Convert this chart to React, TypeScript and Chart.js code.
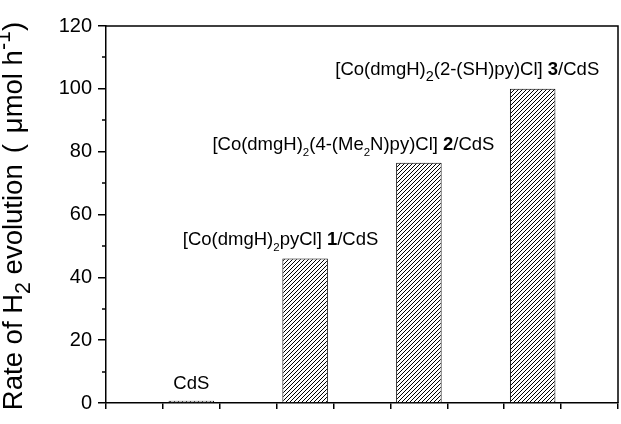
import React, { useEffect, useRef } from 'react';
import { Chart, registerables } from 'chart.js';

Chart.register(...registerables);

// ---- Data ----
const barPositions = [1.5, 3.5, 5.5, 7.5];
const rates = [0.7, 46, 76.5, 100];
const yMin = 0;
const yMax = 120;
const yMajorStep = 20;
const yMinorTicks = [10, 30, 50, 70, 90, 110];
const xMin = 0;
const xMax = 9;

type Seg = { t: string; sub?: boolean; sup?: boolean; bold?: boolean; big?: boolean; gap?: number };

const barLabels: Seg[][] = [
  [{ t: 'CdS' }],
  [{ t: '[Co(dmgH)' }, { t: '2', sub: true }, { t: 'pyCl] ' }, { t: '1', bold: true }, { t: '/CdS' }],
  [
    { t: '[Co(dmgH)' }, { t: '2', sub: true }, { t: '(4-(Me' }, { t: '2', sub: true },
    { t: 'N)py)Cl] ' }, { t: '2', bold: true }, { t: '/CdS' },
  ],
  [{ t: '[Co(dmgH)' }, { t: '2', sub: true, big: true }, { t: '(2-(SH)py)Cl] ' }, { t: '3', bold: true }, { t: '/CdS' }],
];
// label anchor (data units): x, baseline y, alignment
const labelAnchorX = [1.5, 1.35, 1.87, 4.03];
const labelAnchorY = [4.3, 50.3, 80.5, 104.4];
const labelAlign: ('center' | 'left')[] = ['center', 'left', 'left', 'left'];

const titleSegs: Seg[] = [
  { t: 'Rate of H' }, { t: '2', sub: true, big: true }, { t: ' evolution' }, { t: '', gap: 11 }, { t: '(' },
  { t: '', gap: 11 }, { t: '\u03bcmol h' }, { t: '-1', sup: true, big: true }, { t: ')' },
];

const FAMILY = '"Liberation Sans", Arial, Helvetica, sans-serif';

function segFont(s: Seg, size: number) {
  const fs = s.sub || s.sup ? (s.big ? size * 0.78 : size * 0.62) : size;
  return `${s.bold ? 'bold ' : ''}${fs}px ${FAMILY}`;
}

function segWidth(ctx: CanvasRenderingContext2D, s: Seg, size: number) {
  if (s.gap) return s.gap;
  ctx.font = segFont(s, size);
  return ctx.measureText(s.t).width;
}

function drawRich(ctx: CanvasRenderingContext2D, segs: Seg[], x: number, y: number, size: number, align: 'left' | 'center') {
  ctx.textAlign = 'left';
  ctx.textBaseline = 'alphabetic';
  let w = 0;
  for (const s of segs) w += segWidth(ctx, s, size);
  let cx = align === 'center' ? x - w / 2 : x;
  for (const s of segs) {
    const sw = segWidth(ctx, s, size);
    if (!s.gap) {
      ctx.font = segFont(s, size);
      const dy = s.sub ? size * 0.3 : s.sup ? -size * 0.42 : 0;
      ctx.fillText(s.t, cx, y + dy);
    }
    cx += sw;
  }
  return w;
}

function makeHatch(): CanvasPattern | string {
  const c = document.createElement('canvas');
  const s = 4;
  c.width = s;
  c.height = s;
  const g = c.getContext('2d');
  if (!g) return '#888';
  g.fillStyle = '#fff';
  g.fillRect(0, 0, s, s);
  g.strokeStyle = '#000';
  g.lineWidth = 1;
  g.beginPath();
  g.moveTo(0, s);
  g.lineTo(s, 0);
  g.moveTo(-1, 1);
  g.lineTo(1, -1);
  g.moveTo(s - 1, s + 1);
  g.lineTo(s + 1, s - 1);
  g.stroke();
  const p = g.createPattern(c, 'repeat');
  return p || '#888';
}

const decorPlugin = {
  id: 'decor',
  afterDraw(chart: any) {
    const ctx: CanvasRenderingContext2D = chart.ctx;
    const { left, right, top, bottom } = chart.chartArea;
    const xs = chart.scales.x;
    const ys = chart.scales.y;
    ctx.save();
    ctx.strokeStyle = '#000';
    ctx.lineWidth = 1.5;
    // frame top & right
    ctx.beginPath();
    ctx.moveTo(left, top);
    ctx.lineTo(right, top);
    ctx.lineTo(right, bottom);
    ctx.stroke();
    // minor y ticks
    ctx.beginPath();
    for (const v of yMinorTicks) {
      const py = Math.round(ys.getPixelForValue(v));
      ctx.moveTo(left - 4, py);
      ctx.lineTo(left, py);
    }
    ctx.stroke();
    // bar labels
    ctx.fillStyle = '#000';
    barLabels.forEach((segs, i) => {
      drawRich(ctx, segs, xs.getPixelForValue(labelAnchorX[i]), ys.getPixelForValue(labelAnchorY[i]), 18.5, labelAlign[i]);
    });
    // axis title
    ctx.save();
    ctx.translate(22, 216);
    ctx.rotate(-Math.PI / 2);
    drawRich(ctx, titleSegs, 0, 0, 27.5, 'center');
    ctx.restore();
    ctx.restore();
  },
};

export default function App() {
  const ref = useRef<HTMLCanvasElement | null>(null);
  useEffect(() => {
    if (!ref.current) return;
    const hatch = makeHatch();
    const chart = new Chart(ref.current, {
      type: 'bar',
      data: {
        datasets: [
          {
            data: barPositions.map((x, i) => ({ x, y: rates[i] })) as any,
            backgroundColor: hatch as any,
            borderColor: '#000',
            borderWidth: 1,
            barPercentage: 0.8,
            categoryPercentage: 1,
          },
        ],
      },
      options: {
        responsive: false,
        animation: false,
        layout: { padding: { top: 26, right: 3, left: 0, bottom: 0 } },
        plugins: { legend: { display: false }, tooltip: { enabled: false } },
        scales: {
          x: {
            type: 'linear',
            min: xMin,
            max: xMax,
            offset: false,
            grid: { drawOnChartArea: false, offset: false, tickLength: 6, color: '#000', lineWidth: 1.5 },
            border: { color: '#000', width: 1.5 },
            ticks: { stepSize: 1, callback: () => '', padding: 0 },
            afterFit: (s: any) => {
              s.height = 21;
            },
          },
          y: {
            type: 'linear',
            min: yMin,
            max: yMax,
            grid: { drawOnChartArea: false, tickLength: 8, color: '#000', lineWidth: 1.5 },
            border: { color: '#000', width: 1.5 },
            ticks: { stepSize: yMajorStep, color: '#000', padding: 6, font: { size: 20, family: FAMILY } },
            afterFit: (s: any) => {
              s.width = 106;
            },
          },
        },
      } as any,
      plugins: [decorPlugin],
    });
    return () => chart.destroy();
  }, []);
  return (
    <div style={{ position: 'absolute', left: 0, top: 0, width: 621, height: 424, background: '#fff' }}>
      <canvas ref={ref} width={621} height={424} style={{ display: 'block', width: 621, height: 424 }} />
    </div>
  );
}
